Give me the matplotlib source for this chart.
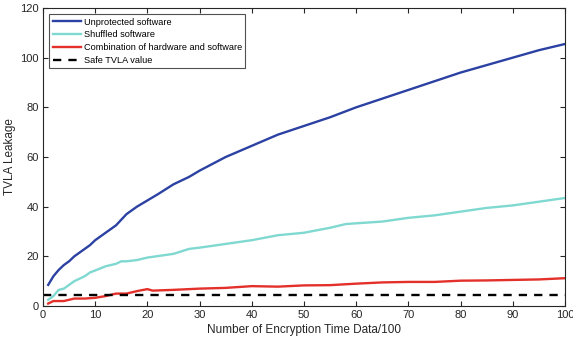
import numpy as np
import matplotlib.pyplot as plt

plt.rcParams['font.family'] = ['Liberation Sans', 'DejaVu Sans']

# values
x_blue = [1, 2, 3, 4, 5, 6, 7, 8, 9, 10, 12, 14, 16, 18, 20, 22, 25, 28, 30, 35,
          40, 45, 50, 55, 60, 65, 70, 75, 80, 85, 90, 95, 100]
unprotected = [8.5, 12, 14.5, 16.5, 18, 20, 21.5, 23, 24.5, 26.5, 29.5, 32.5, 37, 40, 42.5,
               45, 49, 52, 54.5, 60, 64.5, 69, 72.5, 76, 80, 83.5, 87, 90.5, 94, 97, 100,
               103, 105.5]

x_cyan = [1, 2, 3, 4, 5, 6, 7, 8, 9, 10, 12, 14, 15, 16, 18, 20, 25, 28, 30, 35, 40,
          45, 50, 55, 58, 60, 65, 70, 75, 80, 85, 90, 95, 100]
shuffled = [2.5, 4, 6.5, 7, 8.5, 10, 11, 12, 13.5, 14.3, 16, 17, 18, 18, 18.5, 19.5,
            21, 23, 23.5, 25, 26.5, 28.5, 29.5, 31.5, 33, 33.3, 34, 35.5, 36.5, 38,
            39.5, 40.5, 42, 43.5]

x_red = [1, 2, 4, 6, 8, 10, 12, 14, 16, 18, 20, 21, 25, 30, 35, 40, 45, 50, 55, 60,
         65, 70, 75, 80, 85, 90, 95, 100]
combined = [1, 2, 2, 3, 3, 3.3, 4, 5, 5, 6, 6.8, 6.2, 6.5, 7, 7.3, 8, 7.8, 8.3, 8.4,
            9, 9.5, 9.7, 9.7, 10.2, 10.3, 10.5, 10.7, 11.2]

safe_x = [0, 100]
safe_tvla = 4.5

fig = plt.figure(figsize=(5.73, 3.41), dpi=100)
ax = fig.add_axes([0.075, 0.1026, 0.911, 0.874])

ax.plot(x_blue, unprotected, color='#2c42a3', lw=1.7, label='Unprotected software')
ax.plot(x_cyan, shuffled, color='#7fd9d1', lw=1.7, label='Shuffled software')
ax.plot(x_red, combined, color='#e3302a', lw=1.7, label='Combination of hardware and software')
ax.plot(safe_x, [safe_tvla, safe_tvla], color='black', lw=1.7, ls=(0, (3.5, 3)),
        label='Safe TVLA value')

ax.set_xlim(0, 100)
ax.set_ylim(0, 120)
ax.set_xticks(np.arange(0, 101, 10))
ax.set_yticks(np.arange(0, 121, 20))
ax.tick_params(direction='in', top=True, right=True, labelsize=8, length=3.5,
               color='#262626', labelcolor='#262626', pad=3)
for s in ax.spines.values():
    s.set_color('#262626')
    s.set_linewidth(0.8)

ax.set_xlabel('Number of Encryption Time Data/100', fontsize=8.5, color='#262626', labelpad=2.5)
ax.set_ylabel('TVLA Leakage', fontsize=8.5, color='#262626', labelpad=3)

leg = ax.legend(loc='upper left', fontsize=6.6, frameon=True, fancybox=False,
                handlelength=3.1, handletextpad=0.3, borderpad=0.35, labelspacing=0.42,
                borderaxespad=0.7, bbox_to_anchor=(0.0, 1.0))
leg.get_frame().set_edgecolor('#262626')
leg.get_frame().set_linewidth(0.8)

fig.savefig('out.png', dpi=100)
